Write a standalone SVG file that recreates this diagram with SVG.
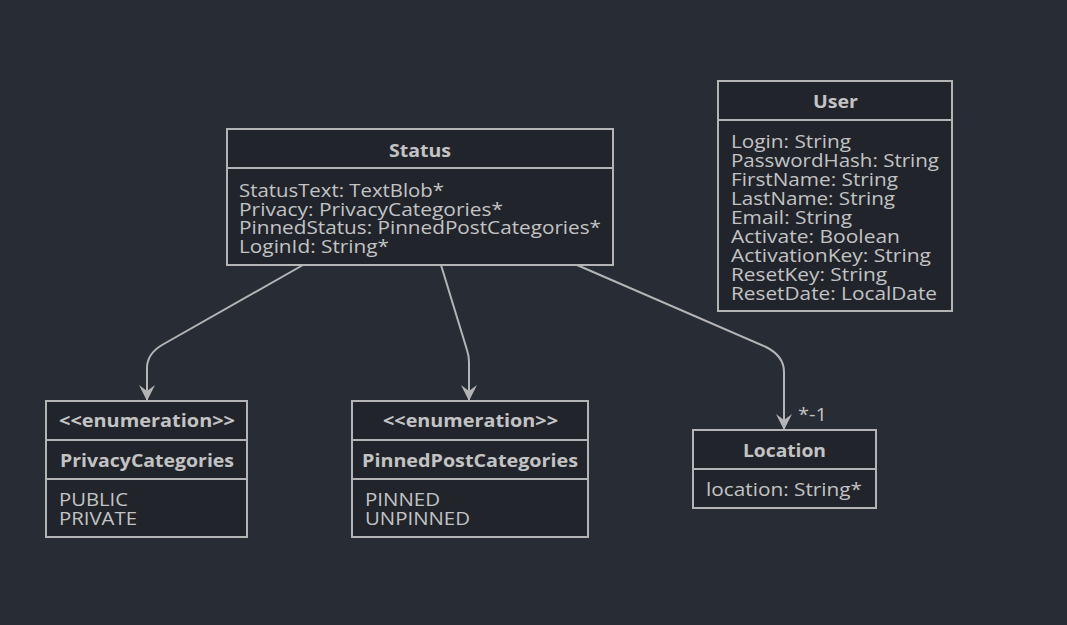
<svg xmlns="http://www.w3.org/2000/svg" width="1067" height="625" viewBox="0 0 1067 625">
<defs>
<style>
.box{fill:#21252b;stroke:#b4b4b4;stroke-width:2}
.div{stroke:#b4b4b4;stroke-width:2}
.t{font-family:"Open Sans","Liberation Sans",sans-serif;font-size:18.500px;fill:#c3c3c3}
.b{font-weight:bold;text-anchor:middle}
.edge{fill:none;stroke:#b4b4b4;stroke-width:2}
</style>
<marker id="arr" viewBox="0 0 16 16" refX="15" refY="8" markerWidth="16" markerHeight="16" markerUnits="userSpaceOnUse" orient="auto">
<path d="M0,0 L16,8 L0,16 L6,8 Z" fill="#b4b4b4"/>
</marker>
</defs>
<rect width="1067" height="625" fill="#282c34"/>
<g id="connectors">
<path class="edge" d="M303,265 L162,345 Q147,354 147,368 L147,400" marker-end="url(#arr)"/>
<path class="edge" d="M441,265 L467,350 Q469,356 469,362 L469,400" marker-end="url(#arr)"/>
<path class="edge" d="M577,265 L766,347 Q784,356 784,372 L784,429" marker-end="url(#arr)"/>
<text class="t" x="798" y="421" textLength="29" lengthAdjust="spacingAndGlyphs">*-1</text>
</g>
<g id="Status">
<rect class="box" x="227" y="129" width="386" height="136"/>
<line class="div" x1="227" y1="168" x2="613" y2="168"/>
<text class="t b" x="420" y="157" textLength="62" lengthAdjust="spacingAndGlyphs">Status</text>
<text class="t" x="239" y="197" textLength="205" lengthAdjust="spacingAndGlyphs">StatusText: TextBlob*</text>
<text class="t" x="239" y="216" textLength="264" lengthAdjust="spacingAndGlyphs">Privacy: PrivacyCategories*</text>
<text class="t" x="239" y="234" textLength="362" lengthAdjust="spacingAndGlyphs">PinnedStatus: PinnedPostCategories*</text>
<text class="t" x="239" y="253" textLength="150" lengthAdjust="spacingAndGlyphs">LoginId: String*</text>
</g>
<g id="User">
<rect class="box" x="718" y="81" width="234" height="230"/>
<line class="div" x1="718" y1="120" x2="952" y2="120"/>
<text class="t b" x="835.500" y="108" textLength="45" lengthAdjust="spacingAndGlyphs">User</text>
<text class="t" x="731" y="148" textLength="120" lengthAdjust="spacingAndGlyphs">Login: String</text>
<text class="t" x="731" y="167" textLength="208" lengthAdjust="spacingAndGlyphs">PasswordHash: String</text>
<text class="t" x="731" y="186" textLength="167" lengthAdjust="spacingAndGlyphs">FirstName: String</text>
<text class="t" x="731" y="205" textLength="164" lengthAdjust="spacingAndGlyphs">LastName: String</text>
<text class="t" x="731" y="224" textLength="121" lengthAdjust="spacingAndGlyphs">Email: String</text>
<text class="t" x="731" y="243" textLength="169" lengthAdjust="spacingAndGlyphs">Activate: Boolean</text>
<text class="t" x="731" y="262" textLength="200" lengthAdjust="spacingAndGlyphs">ActivationKey: String</text>
<text class="t" x="731" y="281" textLength="156" lengthAdjust="spacingAndGlyphs">ResetKey: String</text>
<text class="t" x="731" y="300" textLength="206" lengthAdjust="spacingAndGlyphs">ResetDate: LocalDate</text>
</g>
<g id="PrivacyCategories">
<rect class="box" x="46" y="401" width="201" height="136"/>
<line class="div" x1="46" y1="440" x2="247" y2="440"/>
<line class="div" x1="46" y1="479" x2="247" y2="479"/>
<text class="t b" x="147" y="427" textLength="176" lengthAdjust="spacingAndGlyphs">&lt;&lt;enumeration&gt;&gt;</text>
<text class="t b" x="147" y="467" textLength="174" lengthAdjust="spacingAndGlyphs">PrivacyCategories</text>
<text class="t" x="59" y="506" textLength="69" lengthAdjust="spacingAndGlyphs">PUBLIC</text>
<text class="t" x="59" y="525" textLength="78" lengthAdjust="spacingAndGlyphs">PRIVATE</text>
</g>
<g id="PinnedPostCategories">
<rect class="box" x="352" y="401" width="236" height="136"/>
<line class="div" x1="352" y1="440" x2="588" y2="440"/>
<line class="div" x1="352" y1="479" x2="588" y2="479"/>
<text class="t b" x="470.500" y="427" textLength="175" lengthAdjust="spacingAndGlyphs">&lt;&lt;enumeration&gt;&gt;</text>
<text class="t b" x="470" y="467" textLength="216" lengthAdjust="spacingAndGlyphs">PinnedPostCategories</text>
<text class="t" x="365" y="506" textLength="75" lengthAdjust="spacingAndGlyphs">PINNED</text>
<text class="t" x="365" y="525" textLength="105" lengthAdjust="spacingAndGlyphs">UNPINNED</text>
</g>
<g id="Location">
<rect class="box" x="693" y="430" width="183" height="78"/>
<line class="div" x1="693" y1="469" x2="876" y2="469"/>
<text class="t b" x="784.500" y="457" textLength="83" lengthAdjust="spacingAndGlyphs">Location</text>
<text class="t" x="706" y="496" textLength="156" lengthAdjust="spacingAndGlyphs">location: String*</text>
</g>
</svg>
